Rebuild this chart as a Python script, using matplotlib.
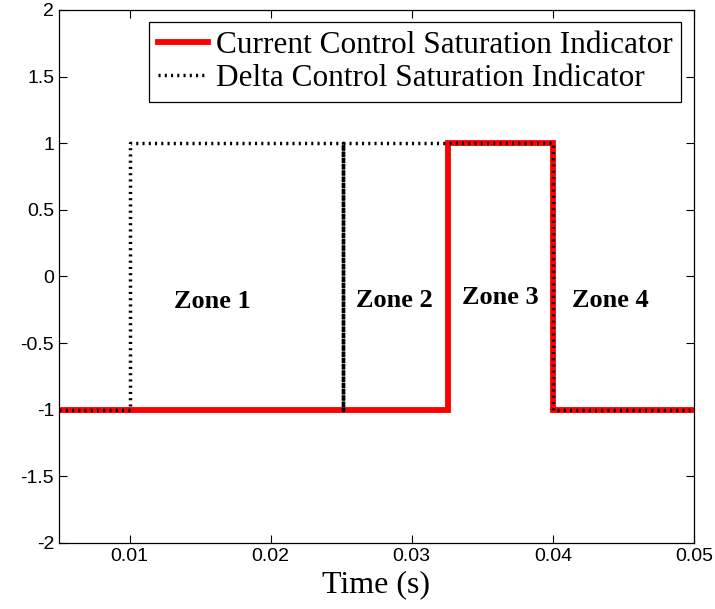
import matplotlib
matplotlib.use("Agg")
import matplotlib.pyplot as plt

# Data
current_t = [0.005, 0.0326, 0.0326, 0.0400, 0.0400, 0.050]
current_v = [-1, -1, 1, 1, -1, -1]

delta_t = [0.005, 0.0100, 0.0100, 0.0251, 0.0251, 0.02512, 0.02512, 0.02514, 0.02514,
           0.02516, 0.02516, 0.0400, 0.0400, 0.050]
delta_v = [-1, -1, 1, 1, -1, -1, 1, 1, -1, -1, 1, 1, -1, -1]

zones = ["Zone 1", "Zone 2", "Zone 3", "Zone 4"]
zone_x = [0.0159, 0.0288, 0.0363, 0.0441]
zone_y = [-0.19, -0.18, -0.16, -0.18]

xticks = [0.01, 0.02, 0.03, 0.04, 0.05]
yticks = [-2, -1.5, -1, -0.5, 0, 0.5, 1, 1.5, 2]

fig = plt.figure(figsize=(7.15, 6.09), dpi=100)
ax = fig.add_axes([0.0825, 0.1084, 0.888, 0.8752])

ax.plot(current_t, current_v, color="red", lw=4.2, solid_joinstyle="miter",
        label="Current Control Saturation Indicator")
ax.plot(delta_t, delta_v, color="black", lw=2.5, linestyle=(0, (0.6, 1.2)),
        label="Delta Control Saturation Indicator")

for z, x, y in zip(zones, zone_x, zone_y):
    ax.text(x, y, z, ha="center", va="center", fontsize=19, fontweight="bold",
            family="Liberation Serif")

ax.set_xlim(0.005, 0.05)
ax.set_ylim(-2, 2)
ax.set_xticks(xticks)
ax.set_yticks(yticks)
ax.set_xticklabels([f"{t:g}" for t in xticks], family="Liberation Sans", fontsize=14)
ax.set_yticklabels([f"{t:g}" for t in yticks], family="Liberation Sans", fontsize=14)
ax.tick_params(direction="in", top=True, right=True, length=6, width=0.8)
for s in ax.spines.values():
    s.set_linewidth(0.9)

ax.set_xlabel("Time (s)", family="Liberation Serif", fontsize=23, labelpad=4)

leg = ax.legend(loc="upper right", prop={"family": "Liberation Serif", "size": 22.5},
                handlelength=1.6, handletextpad=0.25, borderpad=0.28,
                labelspacing=0.12, fancybox=False, framealpha=1,
                edgecolor="black", borderaxespad=0.4)
leg.get_frame().set_linewidth(0.9)

fig.savefig("out.png", dpi=100)
